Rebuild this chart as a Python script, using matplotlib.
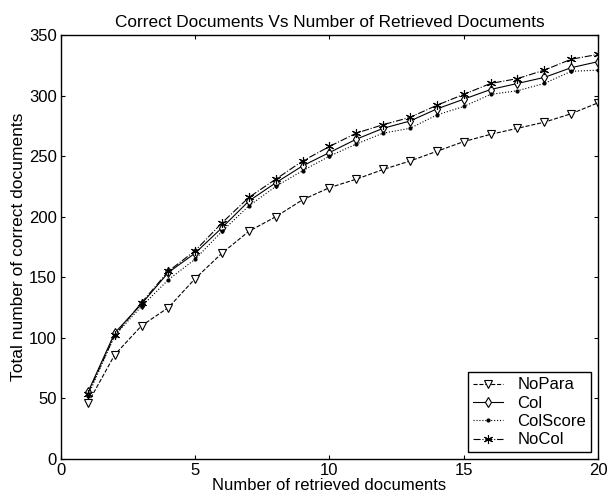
import matplotlib
matplotlib.use("Agg")
import matplotlib.pyplot as plt

plt.rcParams['font.family'] = ['Liberation Sans', 'DejaVu Sans']

docs = list(range(1, 21))
nopara = [46, 86, 110, 125, 149, 170, 188, 200, 214, 224, 231, 239, 246, 254, 262, 268, 273, 278, 285, 294]
col = [55, 104, 128, 154, 170, 191, 213, 228, 242, 253, 264, 273, 279, 289, 297, 305, 310, 315, 323, 328]
colscore = [52, 102, 126, 148, 165, 188, 209, 225, 238, 250, 260, 269, 273, 284, 291, 301, 304, 310, 320, 321]
nocol = [54, 102, 129, 155, 172, 195, 216, 231, 246, 258, 269, 276, 282, 292, 301, 310, 314, 321, 330, 334]

fig = plt.figure(figsize=(6.08, 4.98), dpi=100)
ax = fig.add_axes([0.1003, 0.0783, 0.8832, 0.8514])

ax.plot(docs, nopara, 'k--', marker='v', mfc='white', mec='k', ms=6, mew=0.8, lw=0.8, label='NoPara')
ax.plot(docs, col, 'k-', marker='d', mfc='white', mec='k', ms=5.5, mew=0.8, lw=0.8, label='Col')
ax.plot(docs, colscore, 'k:', marker='.', ms=4, lw=0.8, label='ColScore')
ax.plot(docs, nocol, 'k-.', marker=(6, 2, 0), ms=6.5, mew=0.8, lw=0.8, label='NoCol')

ax.set_xlim(0, 20)
ax.set_ylim(0, 350)
ax.set_xticks([0, 5, 10, 15, 20])
ax.set_yticks(range(0, 351, 50))
ax.tick_params(direction='in', top=True, right=True, labelsize=12, length=3, pad=3)
for s in ax.spines.values():
    s.set_linewidth(1.0)

ax.set_title('Correct Documents Vs Number of Retrieved Documents', fontsize=12.4, pad=6)
ax.set_xlabel('Number of retrieved documents', fontsize=12, labelpad=0)
ax.set_ylabel('Total number of correct documents', fontsize=12.5, labelpad=2)

leg = ax.legend(loc='lower right', fontsize=12, fancybox=False, framealpha=1,
                edgecolor='k', handlelength=1.8, handletextpad=0.9,
                borderaxespad=0.4, labelspacing=0.2, borderpad=0.3)
leg.get_frame().set_linewidth(1.0)

fig.savefig('out.png', dpi=100)
